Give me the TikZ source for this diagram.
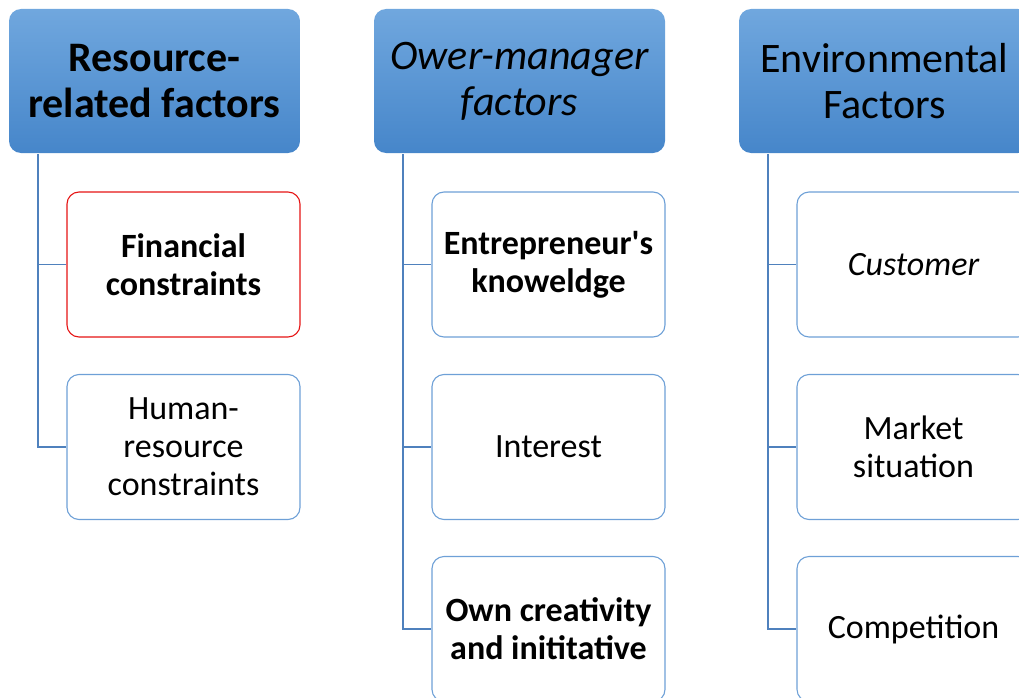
\documentclass[tikz,border=0pt]{standalone}
\usepackage{fontspec}
\setmainfont{Carlito}[Ligatures=TeXOff]
\definecolor{hdtop}{RGB}{112,167,222}
\definecolor{hdbot}{RGB}{70,134,202}
\definecolor{boxline}{RGB}{110,160,215}
\definecolor{conn}{RGB}{79,129,189}
\definecolor{redline}{RGB}{230,20,20}
\begin{document}
\begin{tikzpicture}[x=1pt,y=-1pt,
  header/.style={rounded corners=12pt, minimum width=291pt, minimum height=144pt,
    top color=hdtop, bottom color=hdbot, draw=none, align=center, inner sep=0pt,
    font=\fontsize{42}{46}\selectfont},
  item/.style={rounded corners=12pt, minimum width=233pt, minimum height=145pt,
    draw=boxline, line width=1.1pt, fill=white, align=center, inner sep=0pt,
    font=\fontsize{34}{38}\selectfont},
  link/.style={draw=conn, line width=1.1pt}]
\useasboundingbox (0,0) rectangle (1019,698);
\clip (0,0) rectangle (1019,698);
% headers
\node[header] (h1) at (154.5,81) {\bfseries Resource-\\\bfseries related factors};
\node[header] (h2) at (519.5,81) {\itshape Ower-manager\\\itshape factors};
\node[header] (h3) at (884.5,81) {Environmental\\Factors};
% column 1
\node[item, draw=redline] (a1) at (183.5,264.5) {\bfseries Financial\\\bfseries constraints};
\node[item] (a2) at (183.5,447) {Human-\\resource\\constraints};
% column 2
\node[item] (b1) at (548.5,264.5) {\bfseries Entrepreneur's\\\bfseries knoweldge};
\node[item] (b2) at (548.5,447) {Interest};
\node[item] (b3) at (548.5,629) {\bfseries Own creativity\\\bfseries and inititative};
% column 3
\node[item] (c1) at (913.5,264.5) {\itshape Customer};
\node[item] (c2) at (913.5,447) {Market\\situation};
\node[item] (c3) at (913.5,629) {Competition};
% trunk coordinates
\coordinate (t1) at (38,154);
\coordinate (t2) at (403,154);
\coordinate (t3) at (768,154);
% connectors
\draw[link] (t1) |- (a1.west);
\draw[link] (t1) |- (a2.west);
\draw[link] (t2) |- (b1.west);
\draw[link] (t2) |- (b2.west);
\draw[link] (t2) |- (b3.west);
\draw[link] (t3) |- (c1.west);
\draw[link] (t3) |- (c2.west);
\draw[link] (t3) |- (c3.west);
\end{tikzpicture}
\end{document}
